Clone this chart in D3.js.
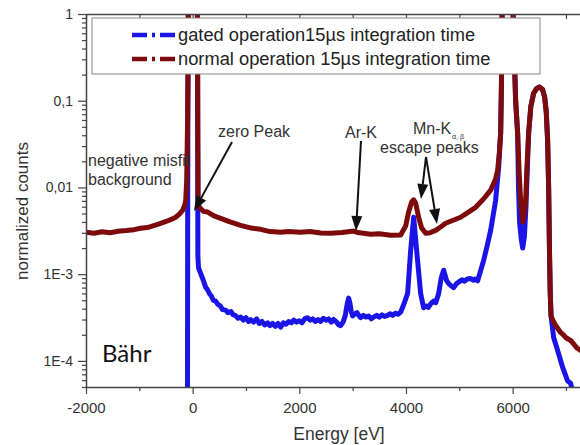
<!DOCTYPE html>
<html><head><meta charset="utf-8">
<script src="https://cdn.jsdelivr.net/npm/d3@7"></script>
<style>
body{margin:0;background:#fff;}
svg{display:block;font-family:"Liberation Sans",Arial,sans-serif;}
</style></head><body>
<svg id="chart" width="580" height="445"></svg>
<script>
// ---------- data ----------
const seriesNames = ["gated operation15\u00b5s integration time", "normal operation 15\u00b5s integration time"];
const seriesColors = ["#1a14e6", "#7d0b0b"];

const gatedEnergy = [-100,-96,-92,-85,-70,0,70,88,93,96,98,110,150,200,244,280,320,350,390,431,470,520,560,619,660,720,760,800,850,900,950,1000,1050,1088,1144,1200,1250,1300,1350,1406,1450,1500,1550,1600,1650,1700,1750,1800,1850,1894,1950,2000,2050,2100,2156,2200,2250,2300,2350,2400,2450,2500,2550,2600,2644,2700,2740,2775,2820,2860,2900,2925,2950,2975,3000,3040,3080,3120,3150,3200,3250,3300,3350,3394,3450,3500,3550,3600,3656,3700,3750,3800,3850,3900,3960,4031,4088,4144,4200,4275,4331,4380,4420,4470,4519,4560,4613,4660,4706,4760,4800,4850,4894,4950,5000,5050,5100,5150,5213,5260,5300,5344,5400,5456,5520,5588,5681,5738,5775,5790,5800,5815,5900,5990,6000,6020,6056,6094,6110,6130,6160,6188,6220,6250,6280,6300,6340,6394,6450,6506,6560,6600,6630,6656,6675,6690,6705,6720,6769,6844,6938,7031,7088,7120,7140];
const gatedCounts = [1e-5,1e-4,0.02,1,5,9,5,1.5,0.2,0.01,0.0016,0.00118,0.00102,0.00085,0.000705,0.00066,0.00059,0.00056,0.0005,0.00049,0.00045,0.00043,0.00039,0.000385,0.00036,0.00037,0.00034,0.000335,0.00031,0.00032,0.000295,0.000315,0.000285,0.0003,0.00028,0.000305,0.00027,0.000285,0.00026,0.000275,0.000255,0.00027,0.00025,0.00027,0.000245,0.000275,0.000265,0.000285,0.000275,0.000295,0.00028,0.00029,0.000275,0.000305,0.000315,0.000295,0.000305,0.000285,0.0003,0.000285,0.00031,0.000295,0.000305,0.00028,0.0003,0.00028,0.00026,0.000255,0.00028,0.00033,0.00046,0.00053,0.00046,0.00037,0.00033,0.00035,0.00036,0.00033,0.000315,0.000335,0.00032,0.00033,0.000305,0.00032,0.000335,0.00032,0.00034,0.000325,0.000335,0.00035,0.000335,0.000355,0.000345,0.000365,0.00045,0.0006,0.00188,0.00453,0.00188,0.0006,0.00041,0.00043,0.000415,0.00046,0.00049,0.00047,0.0006,0.0009,0.00111,0.00085,0.00078,0.00073,0.0007,0.00078,0.00082,0.00086,0.00083,0.00088,0.00089,0.00085,0.00088,0.00084,0.0011,0.00144,0.0021,0.0032,0.0071,0.0171,0.042,0.15,0.8,3,10,3,1.5,0.6,0.1,0.042,0.01,0.004,0.0026,0.002,0.0027,0.006,0.02,0.042,0.085,0.122,0.138,0.1436,0.135,0.11,0.075,0.035,0.01,0.002,0.0006,0.00033,0.000186,0.000132,0.000084,0.000059,0.000055,0.000045,0.00002];

const normalEnergy = [-2000,-1850,-1700,-1550,-1400,-1250,-1100,-975,-850,-700,-600,-500,-400,-319,-250,-188,-150,-130,-112,-95,-82,-75,-50,0,60,88,93,97,102,120,150,200,281,400,525,700,900,1100,1275,1450,1650,1800,2025,2200,2400,2588,2800,2950,3019,3100,3338,3500,3713,3900,3994,4050,4106,4144,4181,4238,4294,4369,4450,4556,4650,4744,4850,5025,5150,5306,5450,5588,5680,5719,5750,5775,5790,5800,5815,5900,5990,6000,6020,6056,6094,6120,6150,6188,6220,6244,6270,6300,6340,6394,6450,6506,6560,6600,6630,6656,6675,6690,6705,6720,6760,6800,6850,6900,6950,7000,7088,7150,7200,7275,7350];
const normalCounts = [0.00304,0.00296,0.00308,0.003,0.00312,0.00318,0.00326,0.00338,0.00345,0.00368,0.00386,0.00405,0.00428,0.00453,0.00492,0.00545,0.0062,0.0071,0.012,0.06,0.5,2,6,9,6,2,0.3,0.04,0.008,0.0059,0.0057,0.0053,0.0052,0.0047,0.0044,0.004,0.00366,0.0034,0.00329,0.0031,0.00304,0.0031,0.00304,0.0031,0.00298,0.00296,0.00302,0.0031,0.00314,0.00302,0.00288,0.00292,0.00281,0.00283,0.0036,0.0052,0.0068,0.0072,0.0066,0.0045,0.0034,0.00296,0.003,0.0032,0.0035,0.00386,0.0041,0.00453,0.0051,0.0059,0.0073,0.0093,0.0125,0.0158,0.025,0.042,0.15,0.8,3,10,3,1.5,0.6,0.1,0.042,0.016,0.0071,0.004,0.005,0.0071,0.018,0.042,0.085,0.122,0.138,0.1436,0.135,0.11,0.075,0.035,0.01,0.002,0.0006,0.00033,0.00029,0.00026,0.000235,0.000213,0.0002,0.000185,0.000172,0.000155,0.000142,0.000132,0.000125];

const xDomain = [-2000, 8000];
const yDomain = [5e-5, 1];
const xMajorTicks = [-2000, 0, 2000, 4000, 6000];
const xMajorLabels = ["-2000", "0", "2000", "4000", "6000"];
const xMinorTicks = [-1000, 1000, 3000, 5000, 7000];
const yMajorTicks = [1, 0.1, 0.01, 1e-3, 1e-4];
const yTickLabels = ["1", "0,1", "0,01", "1E-3", "1E-4"];

// ---------- layout ----------
const svg = d3.select("#chart");
const L = 86, T = 14, B = 387;
const x = d3.scaleLinear().domain(xDomain).range([L, L + 533.3]);
const y = d3.scaleLog().domain(yDomain).range([B, T]);
const axisColor = "#444", textColor = "#333";

svg.append("defs").append("clipPath").attr("id","plotclip")
  .append("rect").attr("x", L).attr("y", T).attr("width", 700).attr("height", B - T);

// curves
const line = d3.line().x(d => x(d[0])).y(d => y(d[1]));
const gated = gatedEnergy.map((e,i) => [e, gatedCounts[i]]);
const normal = normalEnergy.map((e,i) => [e, normalCounts[i]]);
const plot = svg.append("g").attr("clip-path","url(#plotclip)");
[[gated, seriesColors[0]], [normal, seriesColors[1]]].forEach(([data, col]) => {
  plot.append("path").datum(data).attr("d", line)
    .attr("fill","none").attr("stroke", col).attr("stroke-width", 5)
    .attr("stroke-linejoin","round").attr("stroke-linecap","round");
});

// minor y ticks
const yMinor = [];
for (let e = -5; e < 0; e++) for (let m = 2; m <= 9; m++) { const v = m * Math.pow(10, e); if (v >= yDomain[0] && v < yDomain[1]) yMinor.push(v); }

function styleAxis(g, fs) {
  g.select(".domain").attr("stroke", axisColor).attr("stroke-width", 1.5);
  g.selectAll(".tick line").attr("stroke", axisColor).attr("stroke-width", 1.2);
  g.selectAll(".tick text").attr("fill", textColor).style("font-size", fs + "px")
    .style("font-family", '"Liberation Sans",Arial,sans-serif');
}

// left axis
const gy = svg.append("g").attr("transform", `translate(${L},0)`)
  .call(d3.axisLeft(y).tickValues(yMajorTicks).tickFormat((d,i) => yTickLabels[i]).tickSizeInner(8).tickSizeOuter(0).tickPadding(5));
styleAxis(gy, 14);
const gym = svg.append("g").attr("transform", `translate(${L},0)`)
  .call(d3.axisLeft(y).tickValues(yMinor).tickFormat("").tickSizeInner(4).tickSizeOuter(0));
styleAxis(gym, 14); gym.select(".domain").remove();

// bottom axis
const gx = svg.append("g").attr("transform", `translate(0,${B})`)
  .call(d3.axisBottom(x).tickValues(xMajorTicks).tickFormat((d,i) => xMajorLabels[i]).tickSizeInner(7).tickSizeOuter(0).tickPadding(8));
styleAxis(gx, 15);
const gxm = svg.append("g").attr("transform", `translate(0,${B})`)
  .call(d3.axisBottom(x).tickValues(xMinorTicks).tickFormat("").tickSizeInner(4).tickSizeOuter(0));
styleAxis(gxm, 15); gxm.select(".domain").remove();

// top axis (ticks inward)
const gt = svg.append("g").attr("transform", `translate(0,${T})`)
  .call(d3.axisBottom(x).tickValues(xMajorTicks.concat(xMinorTicks)).tickFormat("").tickSizeInner(5).tickSizeOuter(0));
styleAxis(gt, 15);

// axis titles
svg.append("text").attr("x", 339).attr("y", 440).attr("text-anchor","middle")
  .attr("fill", textColor).style("font-size","17.5px").text("Energy [eV]");
svg.append("text").attr("transform","translate(28,211) rotate(-90)").attr("text-anchor","middle")
  .attr("fill", textColor).style("font-size","17px").text("normalized counts");

// legend
const lg = svg.append("g");
lg.append("rect").attr("x", 92).attr("y", 18).attr("width", 448).attr("height", 56)
  .attr("fill","#fff").attr("stroke","#888").attr("stroke-width",1);
seriesNames.forEach((name, i) => {
  const cy = 35 + i * 24;
  lg.append("line").attr("x1",132).attr("x2",175).attr("y1",cy).attr("y2",cy)
    .attr("stroke", seriesColors[i]).attr("stroke-width",4.5).attr("stroke-dasharray","15,5,3,5");
  lg.append("text").attr("x",178).attr("y",cy + 6).attr("fill","#222")
    .style("font-size","18.3px").text(name);
});

// annotations
const ann = svg.append("g").attr("fill","#333").style("font-size","16px");
ann.append("text").attr("x",88).attr("y",166).text("negative misfit");
ann.append("text").attr("x",88).attr("y",185).text("background");
ann.append("text").attr("x",218).attr("y",137).text("zero Peak");
ann.append("text").attr("x",345).attr("y",138).text("Ar-K");
ann.append("text").attr("x",413).attr("y",134).text("Mn-K");
ann.append("text").attr("x",452).attr("y",139).style("font-size","7px").text("\u03b1, \u03b2");
ann.append("text").attr("x",380).attr("y",153).text("escape peaks");

function arrow(x1,y1,x2,y2){
  const ang = Math.atan2(y2-y1, x2-x1), len = 15, w = 5.5;
  const bx = x2 - len*Math.cos(ang), by = y2 - len*Math.sin(ang);
  svg.append("line").attr("x1",x1).attr("y1",y1).attr("x2",bx).attr("y2",by)
    .attr("stroke","#111").attr("stroke-width",2);
  const px = -Math.sin(ang)*w, py = Math.cos(ang)*w;
  svg.append("path").attr("d",`M${x2},${y2}L${bx+px},${by+py}L${bx-px},${by-py}Z`).attr("fill","#111");
}
arrow(232,142,194,211);
arrow(361,141,356,231);
arrow(426,157,421,199);
arrow(426,157,437,224);

svg.append("text").attr("x",102).attr("y",362).attr("fill","#111")
  .style("font-family","Lato,'Open Sans',sans-serif").style("font-size","24px").text("B\u00e4hr");
</script>
</body></html>
